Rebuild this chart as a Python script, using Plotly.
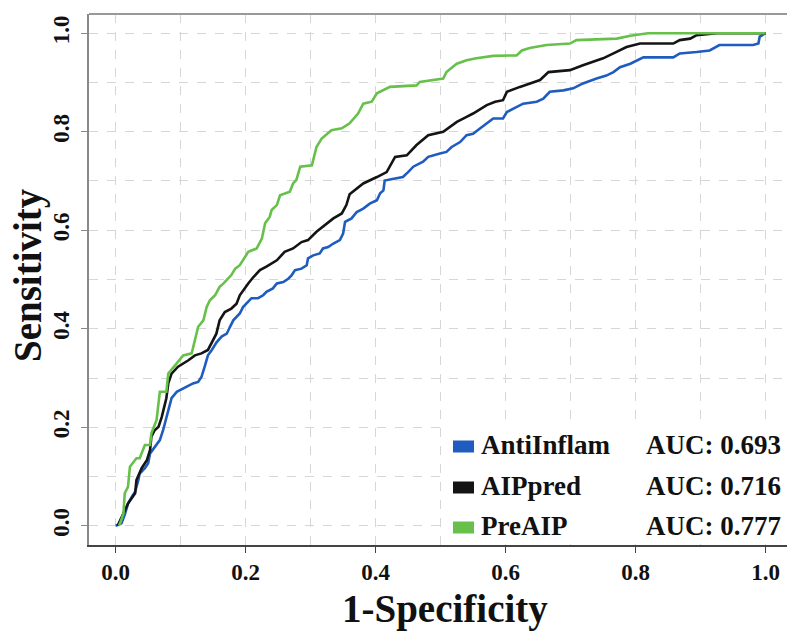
import plotly.graph_objects as go

# ---------------- data ----------------
anti_fpr = [0.0, 0.009, 0.014, 0.019, 0.025, 0.030, 0.035, 0.037, 0.045, 0.050, 0.053, 0.060, 0.068, 0.073,
            0.078, 0.081, 0.086, 0.094, 0.109, 0.119, 0.127, 0.132, 0.137, 0.142, 0.148, 0.155, 0.163, 0.171,
            0.176, 0.181, 0.191, 0.196, 0.204, 0.209, 0.219, 0.227, 0.232, 0.242, 0.248, 0.258, 0.266, 0.271,
            0.276, 0.286, 0.294, 0.296, 0.304, 0.314, 0.319, 0.327, 0.335, 0.345, 0.350, 0.353, 0.363, 0.371,
            0.381, 0.391, 0.402, 0.407, 0.412, 0.414, 0.430, 0.442, 0.450, 0.458, 0.473, 0.481, 0.499, 0.509,
            0.517, 0.530, 0.540, 0.550, 0.561, 0.571, 0.581, 0.596, 0.602, 0.612, 0.627, 0.648, 0.658, 0.668,
            0.689, 0.704, 0.719, 0.740, 0.755, 0.766, 0.776, 0.792, 0.812, 0.858, 0.868, 0.894, 0.914, 0.929,
            0.981, 0.989, 0.991, 1.0]
anti_tpr = [0.0, 0.005, 0.022, 0.045, 0.059, 0.069, 0.093, 0.106, 0.117, 0.127, 0.147, 0.160, 0.174, 0.194,
            0.218, 0.238, 0.259, 0.272, 0.282, 0.289, 0.292, 0.302, 0.323, 0.346, 0.357, 0.372, 0.384, 0.390,
            0.404, 0.417, 0.431, 0.444, 0.455, 0.462, 0.462, 0.468, 0.475, 0.482, 0.492, 0.495, 0.502, 0.509,
            0.519, 0.522, 0.529, 0.543, 0.549, 0.553, 0.563, 0.566, 0.573, 0.580, 0.593, 0.617, 0.624, 0.637,
            0.644, 0.654, 0.661, 0.675, 0.681, 0.701, 0.705, 0.708, 0.718, 0.729, 0.739, 0.749, 0.756, 0.759,
            0.769, 0.779, 0.793, 0.796, 0.807, 0.817, 0.827, 0.827, 0.840, 0.847, 0.857, 0.861, 0.867, 0.881,
            0.884, 0.888, 0.898, 0.908, 0.914, 0.921, 0.931, 0.938, 0.951, 0.951, 0.959, 0.962, 0.965, 0.976,
            0.976, 0.979, 0.993, 1.0]

aip_fpr = [0.003, 0.014, 0.019, 0.030, 0.032, 0.040, 0.048, 0.053, 0.055, 0.060, 0.066, 0.071, 0.076, 0.078,
           0.081, 0.086, 0.096, 0.112, 0.122, 0.132, 0.142, 0.148, 0.155, 0.160, 0.168, 0.178, 0.186, 0.191,
           0.196, 0.204, 0.212, 0.222, 0.232, 0.240, 0.248, 0.260, 0.273, 0.286, 0.296, 0.309, 0.325, 0.335,
           0.348, 0.355, 0.360, 0.371, 0.381, 0.402, 0.417, 0.430, 0.448, 0.463, 0.481, 0.504, 0.514, 0.525,
           0.540, 0.550, 0.571, 0.584, 0.596, 0.602, 0.622, 0.637, 0.653, 0.666, 0.699, 0.719, 0.735, 0.750,
           0.766, 0.786, 0.807, 0.858, 0.868, 0.884, 0.894, 0.925, 1.0]
aip_tpr = [0.0, 0.032, 0.045, 0.066, 0.093, 0.117, 0.133, 0.154, 0.181, 0.194, 0.201, 0.221, 0.248, 0.259,
           0.289, 0.309, 0.323, 0.336, 0.346, 0.350, 0.357, 0.372, 0.390, 0.417, 0.434, 0.441, 0.451, 0.468,
           0.478, 0.492, 0.505, 0.519, 0.526, 0.533, 0.539, 0.556, 0.563, 0.576, 0.580, 0.597, 0.614, 0.624,
           0.634, 0.651, 0.673, 0.685, 0.695, 0.708, 0.718, 0.749, 0.752, 0.773, 0.793, 0.800, 0.810, 0.820,
           0.830, 0.837, 0.854, 0.861, 0.864, 0.881, 0.891, 0.898, 0.905, 0.921, 0.925, 0.935, 0.942, 0.949,
           0.959, 0.972, 0.979, 0.979, 0.986, 0.989, 0.996, 1.0, 1.0]

pre_fpr = [0.005, 0.007, 0.012, 0.014, 0.019, 0.022, 0.032, 0.037, 0.045, 0.053, 0.055, 0.063, 0.068, 0.078,
           0.081, 0.094, 0.104, 0.117, 0.122, 0.127, 0.135, 0.140, 0.145, 0.153, 0.160, 0.166, 0.178, 0.184,
           0.191, 0.196, 0.204, 0.217, 0.225, 0.230, 0.237, 0.240, 0.248, 0.253, 0.260, 0.268, 0.273, 0.278,
           0.284, 0.302, 0.309, 0.317, 0.332, 0.348, 0.360, 0.373, 0.381, 0.394, 0.402, 0.422, 0.463, 0.468,
           0.504, 0.509, 0.519, 0.525, 0.540, 0.555, 0.581, 0.617, 0.625, 0.637, 0.663, 0.699, 0.709, 0.771,
           0.792, 0.819, 1.0]
pre_tpr = [0.0, 0.006, 0.025, 0.066, 0.079, 0.120, 0.137, 0.137, 0.164, 0.164, 0.188, 0.215, 0.272, 0.272,
           0.309, 0.330, 0.346, 0.350, 0.377, 0.404, 0.417, 0.444, 0.458, 0.468, 0.485, 0.492, 0.509, 0.522,
           0.529, 0.539, 0.556, 0.563, 0.583, 0.614, 0.627, 0.641, 0.651, 0.671, 0.675, 0.678, 0.695, 0.702,
           0.729, 0.732, 0.769, 0.786, 0.803, 0.807, 0.817, 0.837, 0.857, 0.861, 0.878, 0.891, 0.894, 0.901,
           0.908, 0.921, 0.932, 0.938, 0.945, 0.949, 0.954, 0.955, 0.965, 0.970, 0.976, 0.979, 0.986, 0.989,
           0.995, 1.0, 1.0]

model_names = ["AntiInflam", "AIPpred", "PreAIP"]
auc_labels = ["AUC: 0.693", "AUC: 0.716", "AUC: 0.777"]
colors = ["#1f5cbf", "#141414", "#66c04a"]
tick_vals = [0.0, 0.2, 0.4, 0.6, 0.8, 1.0]
tick_text = ["0.0", "0.2", "0.4", "0.6", "0.8", "1.0"]

# ---------------- layout geometry (pixels) ----------------
W, H = 787, 632
ML, MR, MT, MB = 89, 0, 14, 87
PW, PH = W - ML - MR, H - MT - MB


def px(x):
    return (x - ML) / PW


def py(y):
    return (H - MB - y) / PH


SERIF = "Liberation Serif"

fig = go.Figure()
series = [(anti_fpr, anti_tpr), (aip_fpr, aip_tpr), (pre_fpr, pre_tpr)]
for (xs, ys), name, c in zip(series, model_names, colors):
    fig.add_trace(go.Scatter(x=xs, y=ys, mode="lines", name=name,
                             line=dict(color=c, width=2.6), showlegend=False))

shapes = []
annotations = []
# top border
shapes.append(dict(type="line", xref="paper", yref="paper", x0=0, x1=1, y0=1, y1=1,
                   line=dict(color="#999999", width=2)))
# legend box
shapes.append(dict(type="rect", xref="paper", yref="paper", x0=px(445), x1=1.0, y0=py(544), y1=py(424),
                   fillcolor="white", line=dict(width=0), layer="above"))
row_centers = [446.5, 487.5, 527.5]
for rc, name, auc, c in zip(row_centers, model_names, auc_labels, colors):
    shapes.append(dict(type="rect", xref="paper", yref="paper", x0=px(453), x1=px(474),
                       y0=py(rc + 6), y1=py(rc - 6), fillcolor=c, line=dict(width=0), layer="above"))
    annotations.append(dict(xref="paper", yref="paper", x=px(479), y=py(rc - 2), text=name,
                            xanchor="left", yanchor="middle", showarrow=False,
                            font=dict(family=SERIF, size=27, color="#111111", weight="bold")))
    annotations.append(dict(xref="paper", yref="paper", x=px(644), y=py(rc - 2), text=auc,
                            xanchor="left", yanchor="middle", showarrow=False,
                            font=dict(family=SERIF, size=27, color="#111111", weight="bold")))

# axis titles
annotations.append(dict(xref="paper", yref="paper", x=px(28), y=py(275), text="Sensitivity",
                        textangle=-90, xanchor="center", yanchor="middle", showarrow=False,
                        font=dict(family=SERIF, size=39, color="#111111", weight="bold")))
annotations.append(dict(xref="paper", yref="paper", x=px(445), y=py(609), text="1-Specificity",
                        xanchor="center", yanchor="middle", showarrow=False,
                        font=dict(family=SERIF, size=39, color="#111111", weight="bold")))

grid_common = dict(showgrid=True, gridcolor="#d6d6d6", griddash="dash", gridwidth=1,
                   minor=dict(dtick=0.1, showgrid=True, gridcolor="#d6d6d6", griddash="dash", gridwidth=1),
                   zeroline=False, ticks="outside", ticklen=6, tickwidth=1.2,
                   tickvals=tick_vals, ticktext=tick_text,
                   tickfont=dict(family=SERIF, size=23, color="#111111", weight="bold"))

fig.update_layout(
    width=W, height=H,
    margin=dict(l=ML, r=MR, t=MT, b=MB),
    paper_bgcolor="white", plot_bgcolor="white",
    shapes=shapes, annotations=annotations,
    xaxis=dict(range=[-0.041, 1.033], showline=True, linecolor="#444444", linewidth=1.5,
               tickcolor="#444444", **grid_common),
    yaxis=dict(range=[-0.039, 1.039], showline=True, linecolor="#888888", linewidth=1.5,
               tickcolor="#888888", tickangle=-90, ticklabelstandoff=3, **grid_common),
)

fig.write_html("out.html")
